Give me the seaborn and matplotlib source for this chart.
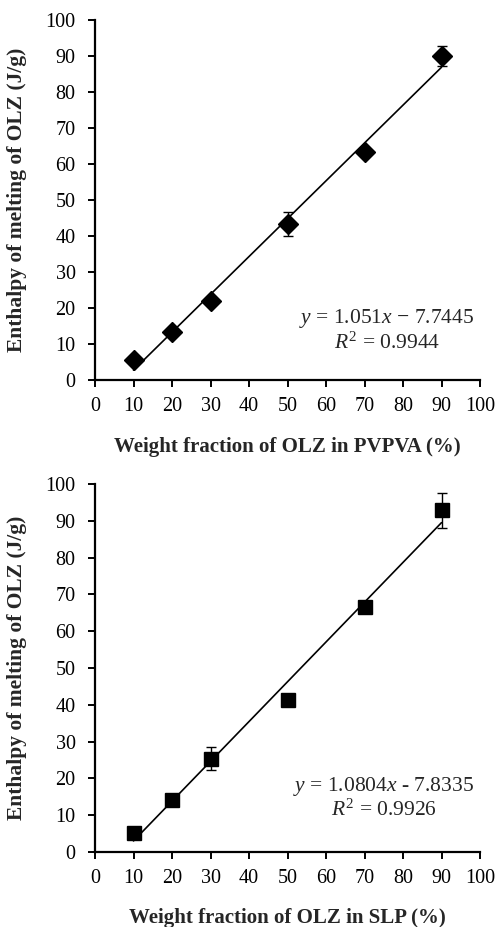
import numpy as np
import pandas as pd
import matplotlib
matplotlib.use("Agg")
import matplotlib.pyplot as plt
import seaborn as sns

# Data
wf = [10, 20, 30, 50, 70, 90]
pvpva_dh = [5.6, 13.2, 21.9, 43.3, 63.3, 90.0]
pvpva_err = [0.6, 0.8, 0.8, 3.4, 1.0, 2.9]
slp_dh = [5.1, 14.0, 25.4, 41.3, 66.5, 92.8]
slp_err = [0.8, 1.0, 3.1, 0.6, 1.6, 4.8]
ticks = [0, 10, 20, 30, 40, 50, 60, 70, 80, 90, 100]
xlabels = ["Weight fraction of OLZ in PVPVA (%)", "Weight fraction of OLZ in SLP (%)"]
ylabel = "Enthalpy of melting of OLZ (J/g)"
eq1 = ["$\\it{y}$ = 1.051$\\it{x}$ \u2212 7.7445", "$\\it{R}^{2}$ = 0.9944"]
eq2 = ["$\\it{y}$ = 1.0804$\\it{x}$ - 7.8335", "$\\it{R}^{2}$ = 0.9926"]

sns.set_style("ticks")
plt.rcParams["font.family"] = ["Liberation Serif", "DejaVu Serif"]
plt.rcParams["mathtext.fontset"] = "custom"
plt.rcParams["mathtext.rm"] = "Liberation Serif"
plt.rcParams["mathtext.it"] = "Liberation Serif:italic"
plt.rcParams["mathtext.bf"] = "Liberation Serif:bold"

fig = plt.figure(figsize=(4.96, 9.27), dpi=100)
W, H = 496, 927
def axrect(l, t, r, b):
    return [l / W, 1 - b / H, (r - l) / W, (b - t) / H]

ax1 = fig.add_axes(axrect(95, 20, 480, 380))
ax2 = fig.add_axes(axrect(95, 484, 480, 852))

panels = [
    (ax1, pvpva_dh, pvpva_err, "D", 10.5, xlabels[0], eq1, (75.8, 17.2, 10.3), -0.186),
    (ax2, slp_dh, slp_err, "s", 9.5, xlabels[1], eq2, (75.0, 17.7, 11.4), -0.179),
]
for ax, y, err, mk, ms, xl, eq, epos, xlab_y in panels:
    df = pd.DataFrame({"x": wf, "y": y})
    sns.regplot(data=df, x="x", y="y", ax=ax, ci=None, scatter=False,
                line_kws=dict(color="black", lw=1.2))
    ax.errorbar(wf, y, yerr=err, fmt="none", ecolor="black", elinewidth=1.0,
                capsize=3.5, capthick=1.0, zorder=3)
    ax.plot(wf, y, linestyle="none", marker=mk, ms=ms, color="black", zorder=4)
    ax.set_xlim(0, 100)
    ax.set_ylim(0, 100)
    ax.set_xticks(ticks)
    ax.set_yticks(ticks)
    ax.tick_params(axis="both", direction="out", length=5, width=1.4,
                   labelsize=14.5, colors="black")
    ax.tick_params(axis="x", pad=7)
    ax.tick_params(axis="y", pad=9)
    for s in ["top", "right"]:
        ax.spines[s].set_visible(False)
    for s in ["left", "bottom"]:
        ax.spines[s].set_linewidth(1.6)
        ax.spines[s].set_color("black")
    ax.set_xlabel(xl, fontsize=15, fontweight="bold")
    ax.set_ylabel(ylabel, fontsize=15.5, fontweight="bold")
    ax.xaxis.label.set_va("center")
    ax.yaxis.label.set_va("center")
    ax.xaxis.set_label_coords(0.5, xlab_y)
    ax.yaxis.set_label_coords(-0.203, 0.5)
    ax.text(epos[0], epos[1], eq[0], ha="center", va="center", fontsize=15.5)
    ax.text(epos[0], epos[2], eq[1], ha="center", va="center", fontsize=15.5)

fig.savefig("out.png", dpi=100)
